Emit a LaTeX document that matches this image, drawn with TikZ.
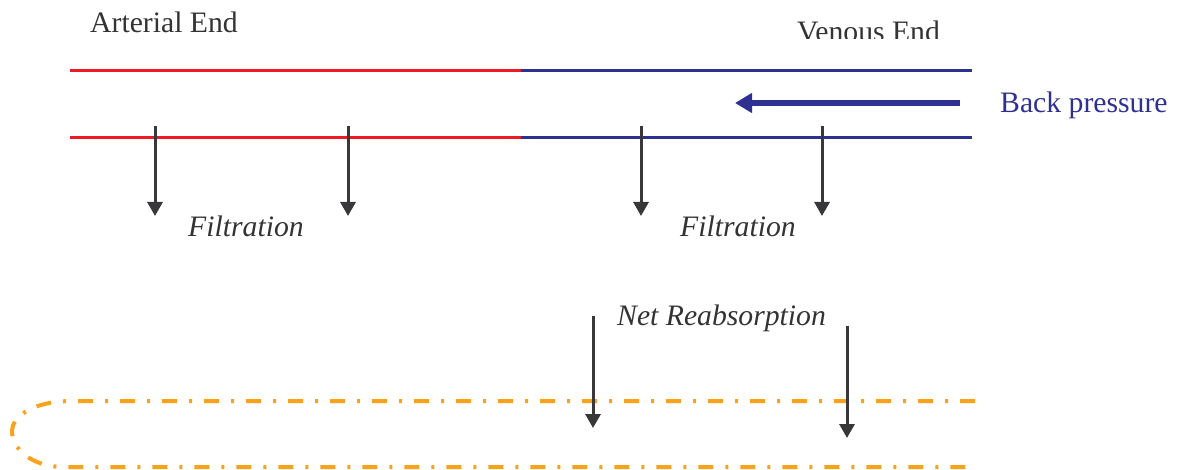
\documentclass[tikz,border=0pt]{standalone}
\usepackage{fontspec}
\setmainfont{Liberation Serif}
\usetikzlibrary{arrows.meta}
\definecolor{artred}{HTML}{ED1C24}
\definecolor{venblue}{HTML}{2E3192}
\definecolor{arrgray}{HTML}{38383A}
\definecolor{lymph}{HTML}{F9A21B}
\definecolor{txtgray}{HTML}{333335}
\tikzset{
  vessel/.style={line width=3pt},
  flowarrow/.style={arrgray, line width=3pt, -{Triangle[length=14pt,width=15pt]}},
  lbl/.style={font=\fontsize{29.7}{33}\selectfont, text=txtgray, inner sep=0pt, anchor=base west},
  ilbl/.style={lbl, font=\fontsize{29.7}{33}\selectfont\itshape},
  lymphline/.style={lymph, line width=4pt, dash pattern=on 15pt off 12pt on 3pt off 12pt}
}
\begin{document}
\begin{tikzpicture}[x=1pt,y=-1pt]
\useasboundingbox (0,0) rectangle (1178,470);
% vessel coordinates
\coordinate (ta) at (70,71);
\coordinate (tm) at (521,71);
\coordinate (tv) at (972,71);
\coordinate (ba) at (70,138);
\coordinate (bm) at (521,138);
\coordinate (bv) at (972,138);
\draw[vessel, artred] (ta) -- (tm);
\draw[vessel, venblue] (tm) -- (tv);
\draw[vessel, artred] (ba) -- (bm);
\draw[vessel, venblue] (bm) -- (bv);
% labels
\node[lbl] (art) at (90,33) {Arterial End};
\begin{scope}
\clip (700,0) rectangle (1000,39);
\node[lbl] (ven) at (797,42) {Venous End};
\end{scope}
\node[lbl, text=venblue] (bp) at (1000,113) {Back pressure};
% back pressure arrow
\coordinate (bps) at (960,103);
\coordinate (bpe) at (735,103);
\draw[venblue, line width=5.5pt, -{Triangle[length=17pt,width=19pt]}] (bps) -- (bpe);
% filtration arrows
\foreach \n/\x in {f1/155, f2/348, f3/641, f4/822}{
  \coordinate (\n s) at (\x,126);
  \coordinate (\n e) at (\x,216);
  \draw[flowarrow] (\n s) -- (\n e);
}
\node[ilbl] (filt1) at (188,237) {Filtration};
\node[ilbl] (filt2) at (680,237) {Filtration};
\node[ilbl] (netr) at (617,326) {Net Reabsorption};
% reabsorption arrows
\coordinate (r1s) at (593,316);
\coordinate (r1e) at (593,428);
\coordinate (r2s) at (847,326);
\coordinate (r2e) at (847,438);
% lymphatic vessel
\coordinate (lt) at (975,401);
\coordinate (lb) at (975,467);
\draw[lymphline] (lt) -- (73,401) .. controls (30,401) and (12,418) .. (12,431)
  .. controls (12,448) and (30,467) .. (65,467) -- (lb);
\draw[flowarrow] (r1s) -- (r1e);
\draw[flowarrow] (r2s) -- (r2e);
\end{tikzpicture}
\end{document}
